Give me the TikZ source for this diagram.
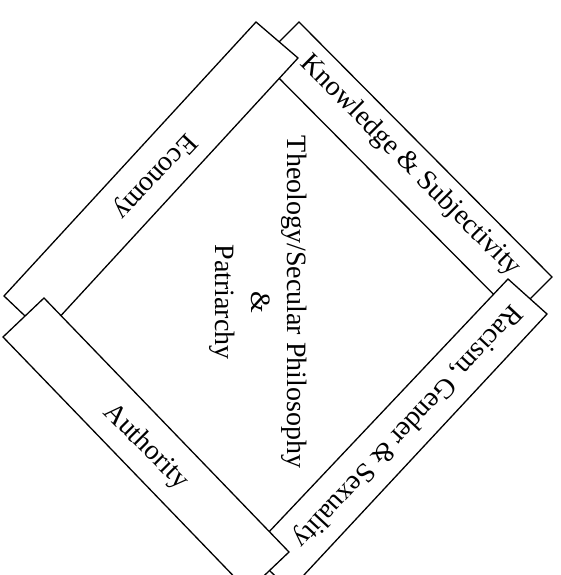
\documentclass[tikz,border=0pt]{standalone}
\usepackage{fontspec}
\setmainfont{Liberation Serif}
\begin{document}
\begin{tikzpicture}[x=1pt,y=-1pt,
  bar/.style={draw=black,fill=white,line width=1.3pt,line join=miter},
  lbl/.style={font=\fontsize{28}{36}\selectfont,inner sep=0pt,align=center}]
\useasboundingbox (0,0) rectangle (560,575);
\clip (0,0) rectangle (560,575);
% bars, drawn from bottom layer to top layer
\draw[bar] (299,22) -- (552,277) -- (514,315) -- (261,60) -- cycle;
\draw[bar] (256,22) -- (298,58) -- (44,334) -- (4,296) -- cycle;
\draw[bar] (508,279) -- (547,314) -- (290,590) -- (250,552) -- cycle;
\draw[bar] (44,298) -- (289,552) -- (248,591) -- (3,337) -- cycle;
% labels
\node[lbl,rotate=-133] (eco) at (154,176) {Economy};
\node[lbl,rotate=-45] (know) at (410,166) {Knowledge \& Subjectivity};
\node[lbl,rotate=-133] (rac) at (407,426) {Racism, Gender \& Sexuality};
\node[lbl,rotate=-45] (auth) at (146,447) {Authority};
\node[lbl,rotate=-90] (core) at (258,302) {Theology/Secular Philosophy\\\&\\Patriarchy};
\end{tikzpicture}
\end{document}
